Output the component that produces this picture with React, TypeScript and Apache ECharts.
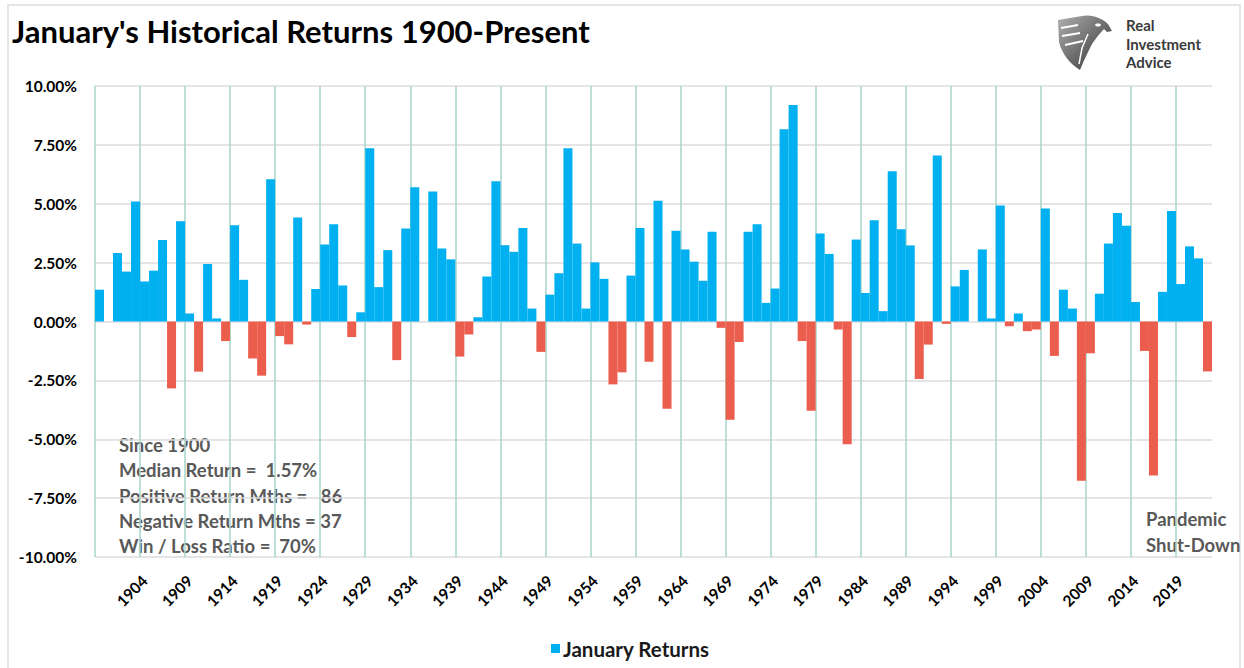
import React, { useEffect, useRef } from "react";
import * as echarts from "echarts";

// ---- data ----
const START_YEAR = 1899;
const januaryReturns: number[] = [
  1.35, 0, 2.91, 2.12, 5.1, 1.7, 2.16, 3.46, -2.84, 4.26,
  0.34, -2.13, 2.44, 0.13, -0.83, 4.09, 1.77, -1.57, -2.3, 6.04,
  -0.62, -0.97, 4.42, -0.13, 1.38, 3.27, 4.13, 1.53, -0.66, 0.39,
  7.36, 1.46, 3.03, -1.64, 3.95, 5.7, 0, 5.52, 3.1, 2.64,
  -1.49, -0.55, 0.18, 1.91, 5.96, 3.24, 2.96, 3.97, 0.55, -1.29,
  1.14, 2.05, 7.36, 3.31, 0.55, 2.51, 1.81, -2.67, -2.16, 1.95,
  3.97, -1.71, 5.13, -3.71, 3.85, 3.06, 2.54, 1.73, 3.81, -0.27,
  -4.17, -0.87, 3.81, 4.13, 0.79, 1.4, 8.16, 9.19, -0.83, -3.79,
  3.74, 2.87, -0.34, -5.21, 3.48, 1.21, 4.3, 0.44, 6.38, 3.92,
  3.23, -2.44, -0.98, 7.05, -0.1, 1.49, 2.19, 0, 3.06, 0.13,
  4.93, -0.2, 0.34, -0.41, -0.34, 4.8, -1.46, 1.35, 0.55, -6.76,
  -1.35, 1.18, 3.31, 4.61, 4.07, 0.83, -1.25, -6.54, 1.26, 4.69,
  1.59, 3.19, 2.68, -2.12,
];
const years: string[] = januaryReturns.map((_, i) => String(START_YEAR + i));
const Y_MIN = -10;
const Y_MAX = 10;
const Y_STEP = 2.5;
const TITLE = "January's Historical Returns 1900-Present";
const SERIES_NAME = "January Returns";
const statsLines: string[] = [
  "Since 1900",
  "Median Return =  1.57%",
  "Positive Return Mths =   86",
  "Negative Return Mths = 37",
  "Win / Loss Ratio =  70%",
];
const noteLines: string[] = ["Pandemic", "Shut-Down"];
const logoLines: string[] = ["Real", "Investment", "Advice"];

const BLUE = "#00B0F0";
const RED = "#EB5E4E";
const TEAL = "#A6D6CA";
const FONT = "Lato, 'Open Sans', sans-serif";

const LOGO_D =
  "M0,6 L24,2 C34,0 44,4 50,10 L54,17 L49,18 L46,15 C42,19 38,24 34,30 C30,38 26,46 22,56 C12,50 4,40 1,28 Z";

let registered = false;
function ensureShape() {
  if (registered) return;
  echarts.graphic.registerShape("logo", (echarts.graphic as any).extendPath(LOGO_D, {}));
  registered = true;
}

export default function App() {
  const ref = useRef<HTMLDivElement>(null);
  useEffect(() => {
    if (!ref.current) return;
    ensureShape();
    const chart = echarts.init(ref.current, undefined, { renderer: "svg" });
    const graphic: any[] = [
      {
        type: "rect",
        shape: { x: 8, y: 5, width: 1232, height: 680 },
        style: { fill: "none", stroke: "#DEDEDE", lineWidth: 1.5 },
        silent: true,
      },
      {
        type: "text",
        x: 12,
        y: 31,
        style: {
          text: TITLE,
          font: `bold 31px ${FONT}`,
          fill: "#000",
          textVerticalAlign: "middle",
        },
      },
      {
        type: "logo",
        x: 1058,
        y: 14,
        scaleX: 1,
        scaleY: 1,
        style: {
          fill: new echarts.graphic.LinearGradient(0, 0, 1, 1, [
            { offset: 0, color: "#B0B0B0" },
            { offset: 1, color: "#2E2E2E" },
          ]),
        },
      },
      { type: "polyline", shape: { points: [[3, 14], [20, 11]] }, x: 1058, y: 14, style: { stroke: "#fff", lineWidth: 2, fill: "none" } },
      { type: "polyline", shape: { points: [[4, 22], [22, 19]] }, x: 1058, y: 14, style: { stroke: "#fff", lineWidth: 2, fill: "none" } },
      { type: "polyline", shape: { points: [[7, 31], [25, 27]] }, x: 1058, y: 14, style: { stroke: "#fff", lineWidth: 2, fill: "none" } },
      { type: "polyline", shape: { points: [[30, 20], [24, 34], [21, 50]] }, x: 1058, y: 14, style: { stroke: "#fff", lineWidth: 1.5, fill: "none" } },
      { type: "ellipse", shape: { cx: 1098, cy: 25, rx: 3, ry: 1.5 }, style: { fill: "#fff" } },
    ];
    logoLines.forEach((t, i) => {
      graphic.push({
        type: "text",
        x: 1126,
        y: 25 + i * 18.5,
        style: { text: t, font: `bold 15px ${FONT}`, fill: "#3A3A3A", textVerticalAlign: "middle", lineHeight: 15 },
      });
    });
    statsLines.forEach((t, i) => {
      graphic.push({
        type: "text",
        x: 119,
        y: 445 + i * 25.3,
        style: { text: t, font: `bold 18.5px ${FONT}`, fill: "#595959", textVerticalAlign: "middle" },
      });
    });
    noteLines.forEach((t, i) => {
      graphic.push({
        type: "text",
        x: 1146,
        y: 519 + i * 25.5,
        style: { text: t, font: `bold 18.5px ${FONT}`, fill: "#595959", textVerticalAlign: "middle" },
      });
    });

    const splitColors: string[] = [];
    for (let k = 0; k < 25; k++) splitColors.push(TEAL);
    splitColors.push("rgba(0,0,0,0)");

    chart.setOption({
      animation: false,
      backgroundColor: "#FFFFFF",
      grid: { left: 95, right: 32, top: 86, bottom: 111, containLabel: false },
      legend: {
        data: [SERIES_NAME],
        left: 546,
        top: 633,
        icon: "rect",
        itemWidth: 9,
        itemHeight: 9,
        itemGap: 4,
        textStyle: { fontFamily: FONT, fontWeight: "bold", fontSize: 20.5, color: "#1A1A1A", padding: [0, 0, 0, -2] },
      },
      xAxis: {
        type: "category",
        data: years,
        boundaryGap: true,
        axisLine: { show: false, onZero: false },
        axisTick: { show: false },
        axisLabel: {
          interval: (index: number) => index % 5 === 0 && index > 0,
          rotate: 45,
          margin: 21,
          fontFamily: FONT,
          fontWeight: "bold",
          fontSize: 15.5,
          color: "#000",
        },
        splitLine: {
          show: true,
          interval: (index: number) => index % 5 === 0,
          lineStyle: { color: splitColors, width: 1.5 },
        },
      },
      yAxis: {
        type: "value",
        min: Y_MIN,
        max: Y_MAX,
        interval: Y_STEP,
        axisLine: { show: false },
        axisTick: { show: false },
        axisLabel: {
          formatter: (v: number) => v.toFixed(2) + "%",
          margin: 18,
          fontFamily: FONT,
          fontWeight: "bold",
          fontSize: 15.5,
          color: "#000",
        },
        splitLine: { show: true, lineStyle: { color: "#DCDCDC", width: 1.5 } },
      },
      series: [
        {
          type: "bar",
          name: SERIES_NAME,
          barCategoryGap: "0%",
          itemStyle: { color: BLUE },
          data: januaryReturns.map((v) => ({
            value: v,
            itemStyle: { color: v < 0 ? RED : BLUE },
          })),
        },
      ],
      graphic,
    });
    return () => chart.dispose();
  }, []);
  return (
    <div
      ref={ref}
      style={{ position: "fixed", left: 0, top: 0, width: 1244, height: 668, background: "#fff" }}
    />
  );
}
